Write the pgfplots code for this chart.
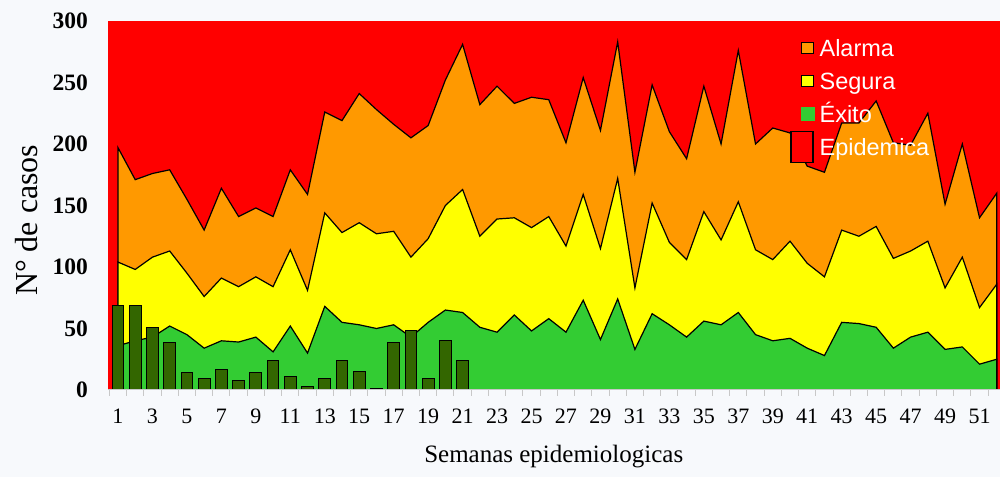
\documentclass[border=0pt]{standalone}
\usepackage{fontspec}
\setmainfont{Liberation Serif}
\setsansfont{Liberation Sans}
\usepackage{pgfplots}
\pgfplotsset{compat=1.18}
\definecolor{cred}{HTML}{FF0000}
\definecolor{corange}{HTML}{FF9900}
\definecolor{cyellow}{HTML}{FFFF00}
\definecolor{cgreen}{HTML}{33CC33}
\definecolor{cbar}{HTML}{336600}
\definecolor{bgc}{HTML}{F7F9FC}
\definecolor{tickgray}{HTML}{C8C8C8}
\begin{document}
\begin{tikzpicture}[x=1bp,y=1bp]
\useasboundingbox[fill=bgc] (0,0) rectangle (1000,477);
\begin{axis}[
  at={(108bp,87bp)}, anchor=south west,
  scale only axis, width=891.5bp, height=369bp,
  xmin=0.42, xmax=52.16, ymin=0, ymax=300,
  axis background/.style={fill=cred},
  axis on top,
  axis x line*=bottom, axis y line*=left,
  x axis line style={-, draw=tickgray, line width=1bp},
  y axis line style={draw=none},
  xtick={1,3,...,51},
  minor xtick={0.5,1.5,...,51.5},
  ytick={0,50,...,300},
  major tick length=0pt,
  minor tick length=6bp,
  tick align=outside,
  every tick/.style={draw=tickgray, line width=1bp},
  /pgf/number format/assume math mode=true,
  xticklabel style={font=\fontsize{22bp}{22bp}\selectfont, anchor=north, inner sep=0pt, yshift=-19bp},
  yticklabel style={font=\bfseries\fontsize{23.5bp}{24bp}\selectfont, anchor=east, inner sep=0pt, xshift=-20bp},
  xlabel={Semanas epidemiologicas},
  ylabel={N° de casos},
  xlabel style={font=\fontsize{25bp}{25bp}\selectfont, at={(rel axis cs:0.5,0)}, anchor=base, inner sep=0pt, yshift=-73bp},
  ylabel style={font=\fontsize{32bp}{32bp}\selectfont, at={(rel axis cs:-0.0787,0.46)}, anchor=base, inner sep=0pt, rotate=0},
  legend cell align=left,
  legend style={at={(rel axis cs:0.777,0.9588)}, anchor=north west, draw=none, fill=none, inner sep=0pt,
    row sep=10bp, column sep=5.7bp,
    nodes={text=white, font=\sffamily\fontsize{23.5bp}{23.5bp}\selectfont, inner sep=0pt, text height=19.7bp, text depth=3.3bp}},
]
\addplot[fill=corange, draw=black, line width=1.2bp, forget plot] coordinates {
(1,0) (1,197) (2,171) (3,176) (4,179) (5,155) (6,130) (7,164) (8,141) (9,148) (10,141)
(11,179) (12,159) (13,226) (14,219) (15,241) (16,228) (17,216) (18,205) (19,215) (20,252)
(21,281) (22,232) (23,247) (24,233) (25,238) (26,236) (27,201) (28,254) (29,211) (30,283)
(31,177) (32,248) (33,210) (34,188) (35,247) (36,200) (37,276) (38,200) (39,213) (40,209)
(41,182) (42,177) (43,217) (44,217) (45,235) (46,201) (47,199) (48,225) (49,151) (50,200)
(51,140) (52,160) (52,0)};
\addplot[fill=cyellow, draw=black, line width=1.2bp, forget plot] coordinates {
(1,0) (1,104) (2,98) (3,108) (4,113) (5,95) (6,76) (7,91) (8,84) (9,92) (10,84)
(11,114) (12,81) (13,144) (14,128) (15,136) (16,127) (17,129) (18,108) (19,123) (20,150)
(21,163) (22,125) (23,139) (24,140) (25,132) (26,141) (27,117) (28,159) (29,115) (30,172)
(31,83) (32,152) (33,120) (34,106) (35,145) (36,122) (37,153) (38,114) (39,106) (40,121)
(41,103) (42,92) (43,130) (44,125) (45,133) (46,107) (47,113) (48,121) (49,83) (50,108)
(51,67) (52,86) (52,0)};
\addplot[fill=cgreen, draw=black, line width=1.2bp, forget plot] coordinates {
(1,0) (1,36) (2,40) (3,43) (4,52) (5,45) (6,34) (7,40) (8,39) (9,43) (10,31)
(11,52) (12,30) (13,68) (14,55) (15,53) (16,50) (17,53) (18,43) (19,55) (20,65)
(21,63) (22,51) (23,47) (24,61) (25,48) (26,58) (27,47) (28,73) (29,41) (30,74)
(31,33) (32,62) (33,53) (34,43) (35,56) (36,53) (37,63) (38,45) (39,40) (40,42)
(41,34) (42,28) (43,55) (44,54) (45,51) (46,34) (47,43) (48,47) (49,33) (50,35)
(51,21) (52,25) (52,0)};
\addplot[ybar, bar width=0.68, fill=cbar, draw=black, line width=1bp, forget plot] coordinates {
(1,69) (2,69) (3,51) (4,39) (5,14) (6,9) (7,17) (8,8) (9,14) (10,24)
(11,11) (12,3) (13,9) (14,24) (15,15) (16,1) (17,39) (18,48) (19,9) (20,40) (21,24)};
\addlegendimage{legend image code/.code={\draw[fill=corange, draw=black, line width=1bp] (0bp,-5.8bp) rectangle (11.6bp,5.8bp);}}
\addlegendentry{Alarma}
\addlegendimage{legend image code/.code={\draw[fill=cyellow, draw=black, line width=1bp] (0bp,-5.8bp) rectangle (11.6bp,5.8bp);}}
\addlegendentry{Segura}
\addlegendimage{legend image code/.code={\fill[cgreen] (-0.5bp,-6.3bp) rectangle (12.1bp,6.3bp);}}
\addlegendentry{Éxito}
\addlegendimage{legend image code/.code={\path (0bp,-5.8bp) rectangle (11.6bp,5.8bp); \draw[overlay, fill=cred, draw=black, line width=1.6bp] (-10.5bp,-15.5bp) rectangle (11.6bp,15.5bp);}}
\addlegendentry{Epidemica}
\end{axis}
\end{tikzpicture}
\end{document}
